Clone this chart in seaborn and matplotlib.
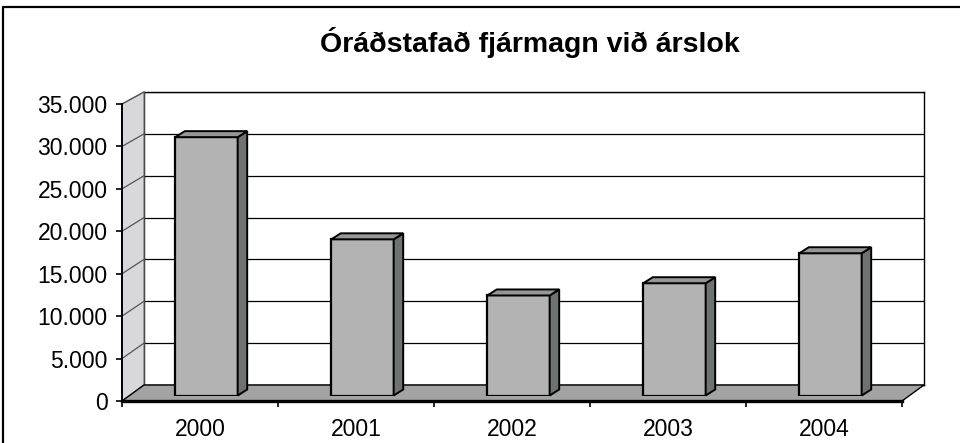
import matplotlib
matplotlib.use('Agg')
import matplotlib.pyplot as plt
import seaborn as sns
import pandas as pd
from matplotlib.patches import Polygon
from matplotlib.lines import Line2D
from matplotlib.transforms import IdentityTransform

# ---------------- data ----------------
years = ['2000', '2001', '2002', '2003', '2004']
values = [30600, 18500, 11850, 13300, 16850]
yticks = [0, 5000, 10000, 15000, 20000, 25000, 30000, 35000]
ytick_labels = ['0', '5.000', '10.000', '15.000', '20.000', '25.000', '30.000', '35.000']
title = 'Óráðstafað fjármagn við árslok'

df = pd.DataFrame({'year': years, 'value': values})

# ---------------- figure ----------------
W, H = 960, 443
sns.set_theme(style='white')
plt.rcParams['font.family'] = ['Liberation Sans', 'DejaVu Sans']
fig = plt.figure(figsize=(W / 100, H / 100), dpi=100)
fig.patch.set_facecolor('white')


def ax_at(x0, x1, ytop, ybot, z):
    a = fig.add_axes([x0 / W, 1 - ybot / H, (x1 - x0) / W, (ybot - ytop) / H])
    a.set_zorder(z)
    a.set_xlim(-0.5, 4.5)
    a.set_ylim(0, 35000)
    return a


ax_back = ax_at(144, 924, 92, 385, 0)
ax_bar = ax_at(128.5, 908.5, 100, 395.5, 1)
ax_front = ax_at(122, 902, 104, 401, 2)

# ---- back wall ----
ax_back.set_facecolor('white')
for s in ax_back.spines.values():
    s.set_visible(True)
    s.set_color('black')
    s.set_linewidth(1.0)
ax_back.set_yticks(yticks)
ax_back.set_xticks([])
ax_back.tick_params(left=False, labelleft=False, bottom=False, labelbottom=False)
ax_back.yaxis.grid(True, color='black', linewidth=0.9)
ax_back.set_axisbelow(True)

idt = IdentityTransform()
fig.canvas.draw()


def disp(a, pt, axes_coords=True):
    tr = a.transAxes if axes_coords else a.transData
    return tuple(tr.transform(pt))


# floor
floor = [disp(ax_front, (0, 0)), disp(ax_front, (1, 0)),
         disp(ax_back, (1, 0)), disp(ax_back, (0, 0))]
ax_back.add_patch(Polygon(floor, closed=True, facecolor='#a3a3a3', edgecolor='black',
                          linewidth=1.0, transform=idt, clip_on=False, zorder=5))
# left wall
wall = [disp(ax_front, (0, 0)), disp(ax_front, (0, 1)),
        disp(ax_back, (0, 1)), disp(ax_back, (0, 0))]
ax_back.add_patch(Polygon(wall, closed=True, facecolor='#d7d7dc', edgecolor='#777777',
                          linewidth=0.9, transform=idt, clip_on=False, zorder=4))
# diagonal gridlines across the left wall
for v in yticks[1:]:
    p0 = disp(ax_front, (-0.5, v), axes_coords=False)
    p1 = disp(ax_back, (-0.5, v), axes_coords=False)
    ax_back.add_line(Line2D([p0[0], p1[0]], [p0[1], p1[1]], color='#555555',
                            linewidth=0.9, transform=idt, clip_on=False, zorder=6))

# ---- bars ----
ax_bar.patch.set_visible(False)
sns.barplot(data=df, x='year', y='value', ax=ax_bar, color='#b3b3b3', saturation=1,
            width=0.4, edgecolor='black', linewidth=1.6)
ax_bar.set_xlim(-0.5, 4.5)
ax_bar.set_ylim(0, 35000)
for s in ax_bar.spines.values():
    s.set_visible(False)
ax_bar.set_xticks([])
ax_bar.set_yticks([])
ax_bar.set_xlabel('')
ax_bar.set_ylabel('')

fig.canvas.draw()
dx, dy = 9.5, 6
for p in list(ax_bar.patches):
    x0, y0 = ax_bar.transData.transform((p.get_x(), p.get_y()))
    x1, y1 = ax_bar.transData.transform((p.get_x() + p.get_width(), p.get_y() + p.get_height()))
    side = [(x1, y0), (x1 + dx, y0 + dy), (x1 + dx, y1 + dy), (x1, y1)]
    top = [(x0, y1), (x1, y1), (x1 + dx, y1 + dy), (x0 + dx, y1 + dy)]
    ax_bar.add_patch(Polygon(side, closed=True, facecolor='#6f7272', edgecolor='black',
                             linewidth=1.4, transform=idt, clip_on=False, zorder=3))
    ax_bar.add_patch(Polygon(top, closed=True, facecolor='#969696', edgecolor='black',
                             linewidth=1.4, transform=idt, clip_on=False, zorder=3))

# ---- front axes (ticks and labels) ----
ax_front.patch.set_visible(False)
for k in ('top', 'right'):
    ax_front.spines[k].set_visible(False)
ax_front.spines['left'].set_color('black')
ax_front.spines['left'].set_linewidth(1.4)
ax_front.spines['bottom'].set_color('black')
ax_front.spines['bottom'].set_linewidth(2.4)
ax_front.set_yticks(yticks)
ax_front.set_yticklabels(ytick_labels)
ax_front.set_xticks([-0.5, 0.5, 1.5, 2.5, 3.5, 4.5])
ax_front.set_xticklabels([])
ax_front.set_xticks(range(len(years)), minor=True)
ax_front.set_xticklabels(years, minor=True)
ax_front.tick_params(axis='y', which='major', left=True, direction='out', length=4.5,
                     width=1.2, color='black', pad=6, labelsize=16.5, labelcolor='black')
ax_front.tick_params(axis='x', which='major', bottom=True, direction='out', length=4.5,
                     width=1.2, color='black')
ax_front.tick_params(axis='x', which='minor', bottom=True, length=0, pad=12,
                     labelsize=16.5, labelcolor='black')

# ---- title ----
fig.text(530 / W, 1 - 43 / H, title, ha='center', va='center', fontsize=20.5,
         fontweight='bold', color='black')

# ---- outer border ----
fig.add_artist(Line2D([3 / W, 3 / W], [0, 1 - 7 / H], color='black', linewidth=1.6,
                      transform=fig.transFigure))
fig.add_artist(Line2D([3 / W, 1], [1 - 7 / H, 1 - 7 / H], color='black', linewidth=1.6,
                      transform=fig.transFigure))

fig.savefig('out.png', dpi=100, facecolor='white')
